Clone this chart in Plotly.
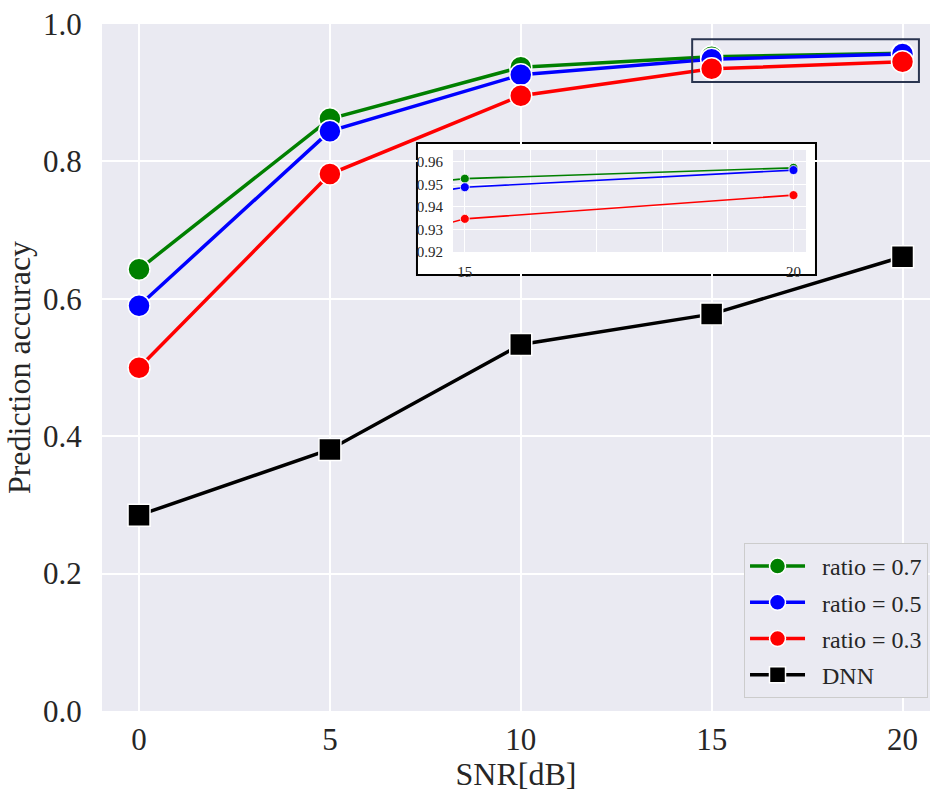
import plotly.graph_objects as go

snr = [0, 5, 10, 15, 20]
ratio07 = [0.643, 0.862, 0.937, 0.9525, 0.9573]
ratio05 = [0.590, 0.844, 0.926, 0.9487, 0.9563]
ratio03 = [0.4995, 0.7816, 0.8956, 0.9347, 0.9452]
dnn = [0.285, 0.3807, 0.5335, 0.5777, 0.6612]

names = ["ratio = 0.7", "ratio = 0.5", "ratio = 0.3", "DNN"]
series = [ratio07, ratio05, ratio03, dnn]
colors = ["green", "blue", "red", "black"]
symbols = ["circle", "circle", "circle", "square"]

y_ticks = [0.0, 0.2, 0.4, 0.6, 0.8, 1.0]
x_ticks = [0, 5, 10, 15, 20]
inset_y_ticks = [0.92, 0.93, 0.94, 0.95, 0.96]
inset_x_ticks = [15, 16, 17, 18, 19, 20]
inset_x_text = ["15", "", "", "", "", "20"]

FONT = "Liberation Serif"
BG = "#eaeaf2"
PAD = "\u00a0\u00a0"

fig = go.Figure()

for i, (nm, ys, c, s) in enumerate(zip(names, series, colors, symbols)):
    fig.add_trace(go.Scatter(
        x=snr, y=ys, name=PAD + nm, mode="lines+markers",
        line=dict(color=c, width=3.5),
        marker=dict(symbol=s, size=22, color=c, line=dict(color="white", width=1.5)),
        legendgroup=f"g{i}",
        xaxis="x", yaxis="y",
    ))

for nm, ys, c in zip(names[:3], series[:3], colors[:3]):
    fig.add_trace(go.Scatter(
        x=snr, y=ys, name=nm, mode="lines+markers", showlegend=False,
        line=dict(color=c, width=1.6),
        marker=dict(symbol="circle", size=9, color=c, line=dict(color="white", width=0.8)),
        xaxis="x2", yaxis="y2",
    ))

fig.update_layout(
    width=930, height=792,
    margin=dict(l=102, r=0, t=24, b=81),
    paper_bgcolor="white",
    plot_bgcolor=BG,
    font=dict(family=FONT, color="#262626"),
    xaxis=dict(
        domain=[0, 1], range=[-0.97, 20.72], automargin=False,
        tickvals=x_ticks, tickfont=dict(size=31),
        ticks="outside", ticklen=1, tickcolor="rgba(0,0,0,0)",
        showgrid=True, gridcolor="white", gridwidth=1.5, zeroline=False, showline=False,
        title=dict(text="SNR[dB]", font=dict(size=32), standoff=7),
    ),
    yaxis=dict(
        domain=[0, 1], range=[0, 1.0], automargin=False,
        tickvals=y_ticks, ticktext=[f"{v:.1f}" for v in y_ticks], tickfont=dict(size=31),
        ticks="outside", ticklen=13, tickcolor="rgba(0,0,0,0)",
        showgrid=True, gridcolor="white", gridwidth=1.5, zeroline=False, showline=False,
        title=dict(text="Prediction accuracy", font=dict(size=32), standoff=2),
    ),
    xaxis2=dict(
        domain=[0.4239, 0.8502], range=[14.82, 20.19], anchor="y2",
        tickvals=inset_x_ticks, ticktext=inset_x_text, tickfont=dict(size=15),
        ticks="outside", ticklen=6, tickcolor="rgba(0,0,0,0)",
        showgrid=True, gridcolor="white", gridwidth=1, zeroline=False, showline=False,
    ),
    yaxis2=dict(
        domain=[0.6681, 0.8166], range=[0.92, 0.9652], anchor="x2",
        tickvals=inset_y_ticks, ticktext=[f"{v:.2f}" for v in inset_y_ticks], tickfont=dict(size=15),
        ticks="outside", ticklen=6, tickcolor="rgba(0,0,0,0)",
        showgrid=True, gridcolor="white", gridwidth=1, zeroline=False, showline=False,
    ),
    legend=dict(
        x=0.9976, y=0.0189, xanchor="right", yanchor="bottom",
        bgcolor=BG, bordercolor="#cccccc", borderwidth=1,
        font=dict(size=24, color="#262626"),
        itemwidth=55, tracegroupgap=2,
    ),
    showlegend=True,
    shapes=[
        dict(type="rect", xref="paper", yref="paper",
             x0=0.3804, x1=0.8623, y0=0.6346, y1=0.8268,
             fillcolor="white", line=dict(color="black", width=2), layer="below"),
        dict(type="rect", xref="x", yref="y",
             x0=14.49, x1=20.43, y0=0.9155, y1=0.9777,
             fillcolor="rgba(0,0,0,0)", line=dict(color="#2a3550", width=2), layer="above"),
    ],
)

fig.write_html(
    "out.html",
    config={"displayModeBar": False},
    post_script="document.body.style.margin='0';document.body.style.overflow='hidden';",
)
